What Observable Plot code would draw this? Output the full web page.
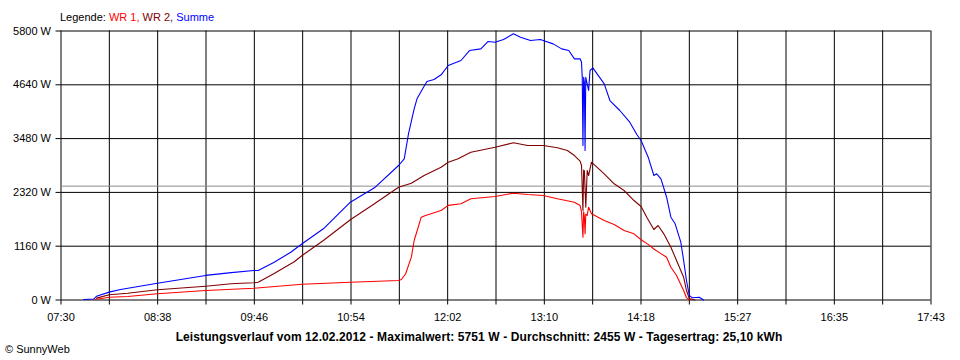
<!DOCTYPE html>
<html><head><meta charset="utf-8">
<script src="https://cdn.jsdelivr.net/npm/d3@7"></script>
<script src="https://cdn.jsdelivr.net/npm/@observablehq/plot@0.6"></script>
<style>
body{margin:0;background:#fff;font-family:"Liberation Sans",Arial,sans-serif;}
#wrap{position:relative;width:960px;height:360px;overflow:hidden;background:#fff}
#legend{position:absolute;left:60px;top:10px;font-size:11px;line-height:14px;white-space:nowrap}
#caption{position:absolute;left:0;width:958px;top:330px;text-align:center;font-weight:bold;font-size:12px;letter-spacing:0.1px;line-height:14px;white-space:nowrap}
#copy{position:absolute;left:5px;top:342px;font-size:11px;line-height:14px}
#chart svg{position:absolute;left:0;top:0}
</style>
</head><body>
<div id="wrap">
  <div id="chart"></div>
  <div id="legend"></div>
  <div id="caption"></div>
  <div id="copy">© SunnyWeb</div>
</div>
<script>
// ---- data ----
const seriesNames = ["WR 1", "WR 2", "Summe"];
const seriesColors = ["#ff0000", "#800000", "#0000ff"];
const xTickLabels = ["07:30","08:38","09:46","10:54","12:02","13:10","14:18","15:27","16:35","17:43"];
const yTickValues = [0, 1160, 2320, 3480, 4640, 5800];
const averageWatt = 2455;
const captionText = "Leistungsverlauf vom 12.02.2012 - Maximalwert: 5751 W - Durchschnitt: 2455 W - Tagesertrag: 25,10 kWh";
const dayStart = "07:30";
const dayEnd = "17:43:24";

const wr1Time = ["07:54","08:04","08:17","08:38","09:12","09:46","10:20","10:54","11:28","11:30","11:33","11:37","11:39","11:44","11:47","11:58","12:03","12:12","12:19","12:36","12:49","12:59","13:10","13:20","13:32","13:36","13:37","13:38","13:38:30","13:39","13:39:30","13:40","13:41","13:42","13:44","13:53","14:00","14:07","14:14","14:19","14:24","14:28","14:33","14:37","14:40","14:44","14:49","14:51","14:53","14:56"];
const wr1Watt = [10,60,75,134,205,254,340,384,420,442,565,923,1283,1785,1822,1930,2040,2074,2182,2231,2303,2275,2253,2182,2109,2037,1900,1354,1900,1800,1427,1850,1822,2001,1858,1714,1628,1498,1427,1300,1200,1100,1000,923,707,528,205,50,0];

const wr2Time = ["07:55","08:04","08:17","08:38","09:12","09:30","09:37","09:46","09:49","10:00","10:12","10:14","10:20","10:35","10:54","11:11","11:28","11:37","11:46","11:58","12:03","12:10","12:12","12:19","12:36","12:49","12:59","13:10","13:20","13:27","13:32","13:36","13:37","13:38","13:38:30","13:39","13:40","13:41","13:42","13:44","13:53","14:00","14:07","14:14","14:19","14:23","14:28","14:31","14:35","14:40","14:44","14:49","14:51","14:53","14:57"];
const wr2Watt = [40,112,147,220,298,349,362,371,384,565,780,815,959,1283,1729,2074,2432,2518,2684,2863,2971,3044,3079,3187,3295,3390,3331,3331,3281,3223,3115,2993,2900,1930,2800,2790,2000,2792,2684,2971,2720,2505,2361,2145,2016,1785,1520,1606,1427,1138,852,492,205,30,0];

const sumTime = ["07:46","07:53","07:55","08:04","08:12","08:38","09:12","09:30","09:46","09:49","10:00","10:12","10:20","10:35","10:54","11:11","11:28","11:32","11:35","11:39","11:41","11:45","11:48","11:53","11:58","12:03","12:12","12:18","12:26","12:31","12:36","12:42","12:49","12:54","13:01","13:08","13:10","13:17","13:23","13:28","13:32","13:36","13:37","13:37:30","13:38","13:38:30","13:39","13:39:30","13:40","13:42","13:43","13:45","13:53","13:57","14:04","14:11","14:16","14:19","14:24","14:28","14:30","14:33","14:37","14:40","14:43","14:47","14:49","14:51","14:53","14:55","15:00","15:03"];
const sumWatt = [10,20,80,170,225,360,530,590,635,636,808,1030,1212,1535,2108,2419,2900,3044,3583,4122,4338,4553,4711,4754,4855,5056,5164,5379,5415,5573,5558,5616,5739,5666,5594,5616,5594,5522,5415,5379,5200,5200,5127,4803,3331,4800,4700,3223,4800,4517,4948,5006,4661,4301,4086,3833,3568,3439,3079,2684,2721,2613,2216,1785,1643,1246,852,420,97,50,60,0];

// ---- helpers ----
function toMin(s){const p=s.split(":").map(Number);return p[0]*60+p[1]+(p[2]||0)/60;}
const t0 = toMin(dayStart), t1 = toMin(dayEnd);
const gridX = d3.range(19).map(i => t0 + i*(t1-t0)/18);
const mk = (times, watts) => times.map((t,i)=>({t:toMin(t), w:watts[i]}));
const series = [mk(wr1Time,wr1Watt), mk(wr2Time,wr2Watt), mk(sumTime,sumWatt)];

const plot = Plot.plot({
  width: 960, height: 360,
  marginLeft: 60.5, marginRight: 29.5, marginTop: 30.5, marginBottom: 60.5,
  style: {fontFamily: "Liberation Sans, Arial, sans-serif", fontSize: "11px", color: "#000", background: "transparent", overflow: "visible"},
  x: {domain: [t0, t1]},
  y: {domain: [0, 5800]},
  marks: [
    Plot.gridX(gridX, {stroke: "#000", strokeOpacity: 1, strokeWidth: 1}),
    Plot.gridY(yTickValues, {stroke: "#000", strokeOpacity: 1, strokeWidth: 1}),
    Plot.ruleY([averageWatt], {stroke: "#8c8c8c", strokeWidth: 1}),
    Plot.axisX(gridX, {tickSize: 5, tickPadding: 8, label: null, stroke: "#000",
      tickFormat: (d, i) => (i % 2 === 0 ? xTickLabels[i/2] : "")}),
    Plot.axisY(yTickValues, {tickSize: 5, tickPadding: 5, label: null, stroke: "#000",
      tickFormat: d => d + " W"}),
    ...series.map((s, k) => Plot.line(s, {x: "t", y: "w", stroke: seriesColors[k], strokeWidth: 1.1}))
  ]
});
document.getElementById("chart").appendChild(plot);

const leg = document.getElementById("legend");
leg.innerHTML = "Legende: " + seriesNames.map((n,i)=>`<span style="color:${seriesColors[i]}">${n}${i<seriesNames.length-1?",":""}</span>`).join(" ");
document.getElementById("caption").textContent = captionText;
</script>
</body></html>
